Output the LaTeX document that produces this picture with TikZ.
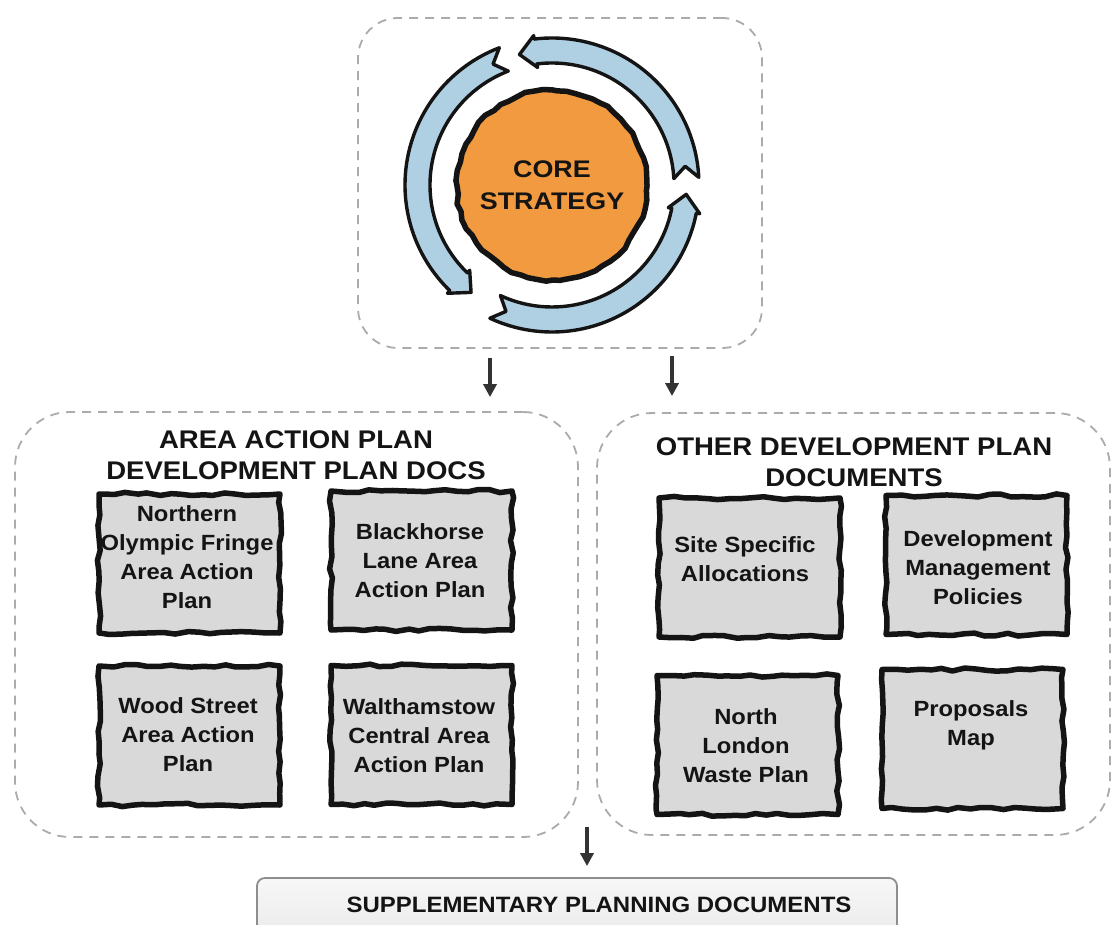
\documentclass[tikz,border=0pt]{standalone}
\usepackage{fontspec}
\setmainfont{Liberation Sans}[FakeStretch=1.08]
\newfontfamily\corefont{Liberation Sans}[FakeStretch=1.12]
\usetikzlibrary{calc,decorations.pathmorphing,arrows.meta}

\definecolor{dashgray}{HTML}{ABABAB}
\definecolor{docgray}{HTML}{D9D9D9}
\definecolor{coreorange}{HTML}{F29A3F}
\definecolor{ringblue}{HTML}{AFCFE3}
\definecolor{inkblack}{HTML}{141414}
\definecolor{flowgray}{HTML}{333333}
\definecolor{spdedge}{HTML}{8E8E8E}

\tikzset{
  container/.style={draw=dashgray, line width=1.8pt, dash pattern=on 9pt off 7pt,
    rounded corners=#1, inner sep=0pt},
  sketchy/.style={decorate, decoration={random steps, segment length=11pt, amplitude=1.6pt}},
  docbox/.style={draw=inkblack, fill=docgray, line width=5.5pt, sketchy,
    line join=round, inner sep=0pt, minimum width=181pt, minimum height=139pt},
  doctext/.style={align=center, font=\fontsize{22}{29}\selectfont\bfseries,
    text=inkblack, inner sep=0pt},
  heading/.style={align=center, font=\fontsize{25.5}{31.5}\selectfont\bfseries,
    text=inkblack, inner sep=0pt},
  flow/.style={draw=flowgray, line width=4.2pt, -{Triangle[width=13pt,length=13pt]}},
  ringarrow/.style={draw=inkblack, fill=ringblue, line width=3.4pt, line join=round},
  corecircle/.style={circle, draw=inkblack, fill=coreorange, line width=5.5pt,
    minimum size=190pt, inner sep=0pt, decorate,
    decoration={random steps, segment length=9pt, amplitude=1.3pt}, line join=round,
    align=center, font=\corefont\fontsize{24}{32}\selectfont\bfseries, text=inkblack},
  spdbox/.style={draw=spdedge, line width=1.8pt, rounded corners=8pt,
    top color=black!3, bottom color=black!10, inner sep=0pt},
  spdtext/.style={font=\fontsize{22.2}{26}\selectfont\bfseries, text=inkblack, inner sep=0pt}
}

% curved band arrow around the core: #1 = tail angle, #2 = tip angle (counterclockwise)
\newcommand\ringarc[2]{%
  \pgfmathsetmacro\rabody{#2-7}%
  \pgfmathsetmacro\ranotch{#1+5}%
  \filldraw[ringarrow] (#1:147) arc[start angle=#1, end angle=\rabody, radius=147]
    -- (\rabody:150.5) -- (#2:134.5) -- (\rabody:118.5) -- (\rabody:122)
    arc[start angle=\rabody, end angle=#1, radius=122] -- (\ranotch:134.5) -- cycle;
}

\begin{document}
\begin{tikzpicture}[x=1pt, y=1pt]
  \pgfmathsetseed{7}
  \useasboundingbox (0,0) rectangle (1114,-925);
  \clip (0,0) rectangle (1114,-925);
  \fill[white] (0,0) rectangle (1114,-925);

  % dashed groups
  \node[container=40pt, minimum width=404pt, minimum height=330pt] (csbox) at (560,-183) {};
  \node[container=55pt, minimum width=563pt, minimum height=425pt] (aapbox) at (296.5,-624.5) {};
  \node[container=55pt, minimum width=513pt, minimum height=422pt] (odpbox) at (853.5,-624) {};

  % core strategy with its cycle of arrows
  \node[corecircle] (core) at (552,-185) {CORE\\STRATEGY};
  \begin{scope}[shift={(core.center)}]
    \ringarc{3}{104}
    \ringarc{111}{233}
    \ringarc{245}{356}
  \end{scope}

  % group headings
  \node[heading] (aaph) at (296,-455) {AREA ACTION PLAN\\DEVELOPMENT PLAN DOCS};
  \node[heading] (odph) at (854,-462) {OTHER DEVELOPMENT PLAN\\DOCUMENTS};

  % area action plans
  \node[docbox] (nofbox) at (189.5,-563.5) {};
  \node[doctext] (noftxt) at (187,-557) {Northern\\Olympic Fringe\\Area Action\\Plan};
  \node[docbox] (blhbox) at (421.5,-560.5) {};
  \node[doctext] (blhtxt) at (420,-560.5) {Blackhorse\\Lane Area\\Action Plan};
  \node[docbox] (wstbox) at (189.5,-735.5) {};
  \node[doctext] (wsttxt) at (188,-734.5) {Wood Street\\Area Action\\Plan};
  \node[docbox] (wccbox) at (421.5,-735) {};
  \node[doctext] (wcctxt) at (419,-736) {Walthamstow\\Central Area\\Action Plan};

  % other development plan documents
  \node[docbox] (ssabox) at (749.5,-567.5) {};
  \node[doctext] (ssatxt) at (745,-559.5) {Site Specific\\Allocations};
  \node[docbox] (dmpbox) at (976.5,-565) {};
  \node[doctext] (dmptxt) at (978,-567.5) {Development\\Management\\Policies};
  \node[docbox] (nlwbox) at (747.5,-745) {};
  \node[doctext] (nlwtxt) at (746,-745.5) {North\\London\\Waste Plan};
  \node[docbox] (pmapbox) at (972.5,-739) {};
  \node[doctext] (pmaptxt) at (971,-725) {Proposals\\Map};

  % supplementary planning documents
  \node[spdbox, minimum width=640pt, minimum height=80pt] (spd) at (577,-918) {};
  \node[spdtext] (spdtxt) at (599,-905) {SUPPLEMENTARY PLANNING DOCUMENTS};

  % flow between the levels
  \coordinate (xa) at (490,0);
  \coordinate (xb) at (672,0);
  \coordinate (spdin) at (587,-827);
  \draw[flow, shorten <=9pt, shorten >=14pt] (csbox.south -| xa) -- (aapbox.north -| xa);
  \draw[flow, shorten <=7pt, shorten >=16pt] (csbox.south -| xb) -- (odpbox.north -| xb);
  \draw[flow, shorten >=11pt] (spdin) -- (spd.north -| spdin);
\end{tikzpicture}
\end{document}
